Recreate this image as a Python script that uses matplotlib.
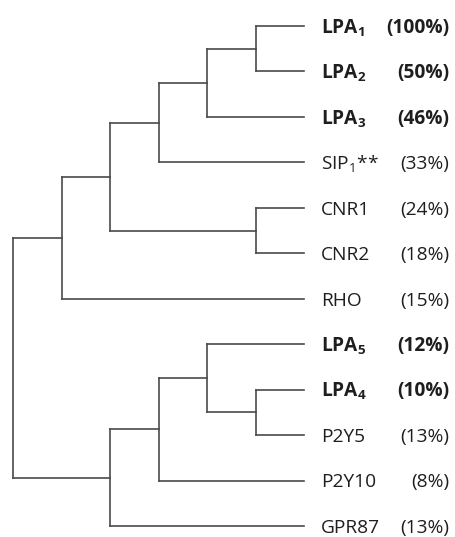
import matplotlib
matplotlib.use("Agg")
import matplotlib.pyplot as plt

plt.rcParams["font.family"] = ["Open Sans", "DejaVu Sans"]
plt.rcParams["mathtext.fontset"] = "custom"
plt.rcParams["mathtext.rm"] = "Open Sans"
plt.rcParams["mathtext.it"] = "Open Sans"
plt.rcParams["mathtext.bf"] = "Open Sans:bold"

LINE = "#4a4a4a"
TEXT = "#1e1e1e"

# leaves, top to bottom
labels = [r"LPA$_\mathbf{1}$", r"LPA$_\mathbf{2}$", r"LPA$_\mathbf{3}$", r"SIP$_1$**",
          "CNR1", "CNR2", "RHO", r"LPA$_\mathbf{5}$", r"LPA$_\mathbf{4}$",
          "P2Y5", "P2Y10", "GPR87"]
identity = [100, 50, 46, 33, 24, 18, 15, 12, 10, 13, 8, 13]
bold = [True, True, True, False, False, False, False, True, True, False, False, False]

# merges: (child a, child b, height) ; new nodes numbered from 12
merges = [(0, 1, 1), (12, 2, 2), (13, 3, 3), (4, 5, 1), (14, 15, 4),
          (16, 6, 5), (8, 9, 1), (7, 18, 2), (19, 10, 3), (20, 11, 4),
          (17, 21, 6)]
top_h = 6

# ─────────────────────────────────────────────
# FIGURE
# ─────────────────────────────────────────────
fig = plt.figure(figsize=(4.55, 5.37), dpi=100)
ax = fig.add_axes([0, 0, 1, 1])
ax.axis("off")

n = len(labels)
ypos = {i: float(i) for i in range(n)}
xpos = {i: float(top_h) for i in range(n)}

for k, (a, b, h) in enumerate(merges):
    node = n + k
    x = top_h - h
    ypos[node] = (ypos[a] + ypos[b]) / 2
    xpos[node] = x
    ax.plot([x, x], [ypos[a], ypos[b]], color=LINE, lw=1.2, solid_capstyle="projecting")
    for c in (a, b):
        ax.plot([x, xpos[c]], [ypos[c], ypos[c]], color=LINE, lw=1.2,
                solid_capstyle="projecting")

for i, (lab, pct, b) in enumerate(zip(labels, identity, bold)):
    w = "bold" if b else "normal"
    ax.text(top_h + 0.35, i + 0.15, lab, fontsize=13.8, fontweight=w,
            color=TEXT, ha="left", va="baseline")
    ax.text(8.99, i + 0.15, f"({pct}%)", fontsize=13.8, fontweight=w,
            color=TEXT, ha="right", va="baseline")

ax.set_xlim(-0.268, 9.113)
ax.set_ylim(11.243, -0.572)

fig.savefig("out.png", dpi=100, facecolor="white")
